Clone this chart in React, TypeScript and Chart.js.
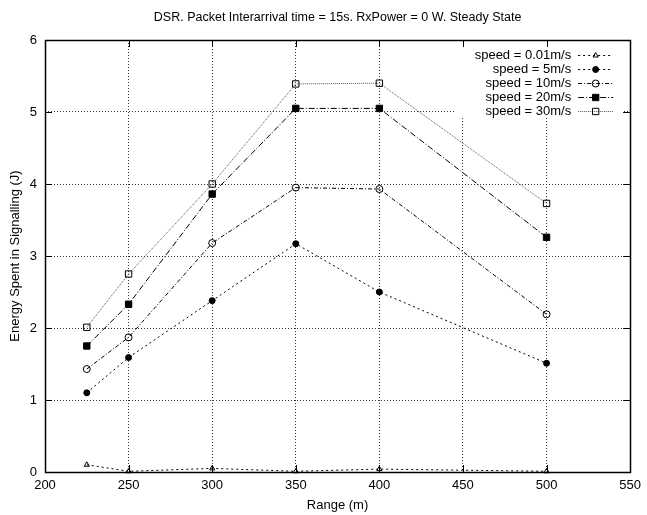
import React, { useEffect, useRef } from "react";
import { Chart, registerables } from "chart.js";

Chart.register(...registerables);

const titleText = "DSR. Packet Interarrival time = 15s. RxPower = 0 W. Steady State";
const xAxisTitle = "Range (m)";
const yAxisTitle = "Energy Spent in Signalling (J)";

const ranges = [225, 250, 300, 350, 400, 500];
const speed001 = [0.1, 0.01, 0.05, 0.01, 0.04, 0.01];
const speed5 = [1.1, 1.59, 2.38, 3.17, 2.5, 1.51];
const speed10 = [1.43, 1.87, 3.18, 3.95, 3.93, 2.19];
const speed20 = [1.75, 2.33, 3.86, 5.05, 5.05, 3.26];
const speed30 = [2.01, 2.75, 4.0, 5.39, 5.4, 3.73];
const seriesLabels = [
  "speed = 0.01m/s",
  "speed = 5m/s",
  "speed = 10m/s",
  "speed = 20m/s",
  "speed = 30m/s",
];
const xTicks = [200, 250, 300, 350, 400, 450, 500, 550];
const yTicks = [0, 1, 2, 3, 4, 5, 6];

const FONT = '"Liberation Sans", Arial, Helvetica, sans-serif';

const styles = [
  { dash: [2, 3], color: "#000", point: "triangle", radius: 3, fill: "rgba(0,0,0,0)" },
  { dash: [2, 3], color: "#000", point: "circle", radius: 3, fill: "#000" },
  { dash: [4, 2, 1, 2], color: "#000", point: "circle", radius: 3.5, fill: "rgba(0,0,0,0)" },
  { dash: [6, 2, 1, 2], color: "#000", point: "rect", radius: 4.5, fill: "#000" },
  { dash: [1, 1], color: "#555", point: "rect", radius: 4.5, fill: "rgba(0,0,0,0)" },
];

function drawMarker(ctx: CanvasRenderingContext2D, style: string, x: number, y: number, r: number, fill: string) {
  ctx.save();
  ctx.setLineDash([]);
  ctx.strokeStyle = "#000";
  ctx.fillStyle = fill;
  ctx.lineWidth = 1;
  ctx.beginPath();
  if (style === "circle") {
    ctx.arc(x, y, r, 0, Math.PI * 2);
  } else if (style === "rect") {
    const s = r * Math.SQRT1_2;
    ctx.rect(x - s, y - s, 2 * s, 2 * s);
  } else {
    ctx.moveTo(x, y - r);
    ctx.lineTo(x + r * 0.866, y + r * 0.5);
    ctx.lineTo(x - r * 0.866, y + r * 0.5);
    ctx.closePath();
  }
  if (fill !== "rgba(0,0,0,0)") ctx.fill();
  ctx.stroke();
  ctx.restore();
}

const gnuplotFrame = {
  id: "gnuplotFrame",
  beforeDatasetsDraw(chart: any) {
    const { ctx, chartArea: a } = chart;
    ctx.save();
    ctx.fillStyle = "#fff";
    ctx.fillRect(a.right - 175, a.top + 1, 168, 77);
    ctx.restore();
  },
  afterDraw(chart: any) {
    const { ctx, chartArea: a } = chart;
    const xs = chart.scales.x;
    const ys = chart.scales.y;
    ctx.save();
    ctx.setLineDash([]);
    ctx.strokeStyle = "#000";
    ctx.lineWidth = 1.5;
    // frame
    ctx.strokeRect(Math.round(a.left) + 0.5, Math.round(a.top) + 0.5, Math.round(a.right - a.left), Math.round(a.bottom - a.top));
    // ticks
    ctx.lineWidth = 1;
    const tl = 7;
    ctx.beginPath();
    xTicks.forEach((v) => {
      const px = Math.round(xs.getPixelForValue(v)) + 0.5;
      ctx.moveTo(px, a.bottom);
      ctx.lineTo(px, a.bottom - tl);
      ctx.moveTo(px, a.top);
      ctx.lineTo(px, a.top + tl);
    });
    yTicks.forEach((v) => {
      const py = Math.round(ys.getPixelForValue(v)) + 0.5;
      ctx.moveTo(a.left, py);
      ctx.lineTo(a.left + tl, py);
      ctx.moveTo(a.right, py);
      ctx.lineTo(a.right - tl, py);
    });
    ctx.stroke();

    // title
    ctx.fillStyle = "#000";
    ctx.font = "12.5px " + FONT;
    ctx.textAlign = "center";
    ctx.textBaseline = "middle";
    ctx.fillText(titleText, (a.left + a.right) / 2, 18);

    // axis titles
    ctx.font = "13px " + FONT;
    ctx.fillText(xAxisTitle, (a.left + a.right) / 2, 505);
    ctx.save();
    ctx.translate(15, (a.top + a.bottom) / 2);
    ctx.rotate(-Math.PI / 2);
    ctx.fillText(yAxisTitle, 0, 0);
    ctx.restore();

    // legend
    ctx.font = "13px " + FONT;
    ctx.textAlign = "right";
    seriesLabels.forEach((label, i) => {
      const st = styles[i];
      const y = a.top + 15 + i * 14;
      ctx.fillStyle = "#000";
      ctx.fillText(label, a.right - 59, y);
      ctx.save();
      ctx.strokeStyle = st.color;
      ctx.setLineDash(st.dash);
      ctx.beginPath();
      ctx.moveTo(a.right - 52, Math.round(y) + 0.5);
      ctx.lineTo(a.right - 17, Math.round(y) + 0.5);
      ctx.stroke();
      ctx.restore();
      drawMarker(ctx, st.point, a.right - 34.5, Math.round(y) + 0.5, st.radius, st.fill);
    });
    ctx.restore();
  },
};

export default function App() {
  const ref = useRef<HTMLCanvasElement | null>(null);
  useEffect(() => {
    document.body.style.margin = "0";
    const series = [speed001, speed5, speed10, speed20, speed30];
    const datasets = series.map((vals, i) => ({
      label: seriesLabels[i],
      data: ranges.map((x, j) => ({ x, y: vals[j] })),
      borderColor: styles[i].color,
      borderWidth: 1,
      borderDash: styles[i].dash,
      pointStyle: styles[i].point,
      pointRadius: styles[i].radius,
      pointBackgroundColor: styles[i].fill,
      pointBorderColor: "#000",
      pointBorderWidth: 1,
      fill: false,
      tension: 0,
      clip: false as any,
    }));
    const chart = new Chart(ref.current as HTMLCanvasElement, {
      type: "line",
      data: { datasets },
      plugins: [gnuplotFrame],
      options: {
        animation: false,
        responsive: false,
        devicePixelRatio: 1,
        layout: { padding: { top: 40, right: 12, left: 0, bottom: 0 } },
        plugins: { legend: { display: false }, tooltip: { enabled: false }, title: { display: false } },
        scales: {
          x: {
            type: "linear",
            min: 200,
            max: 550,
            afterFit: (s: any) => { s.height = 43; },
            afterBuildTicks: (s: any) => { s.ticks = xTicks.map((v) => ({ value: v })); },
            ticks: { color: "#000", padding: 6, font: { family: FONT, size: 13 }, maxRotation: 0 },
            grid: { color: "#333", lineWidth: 1, drawTicks: false },
            border: { display: false, dash: [1, 2] },
          },
          y: {
            type: "linear",
            min: 0,
            max: 6,
            afterFit: (s: any) => { s.width = 45; },
            afterBuildTicks: (s: any) => { s.ticks = yTicks.map((v) => ({ value: v })); },
            ticks: { color: "#000", padding: 8, font: { family: FONT, size: 13 } },
            grid: { color: "#333", lineWidth: 1, drawTicks: false },
            border: { display: false, dash: [1, 2] },
          },
        },
      } as any,
    });
    return () => chart.destroy();
  }, []);
  return (
    <div style={{ width: 647, height: 515 }}>
      <canvas ref={ref} width={647} height={515} style={{ display: "block" }} />
    </div>
  );
}
